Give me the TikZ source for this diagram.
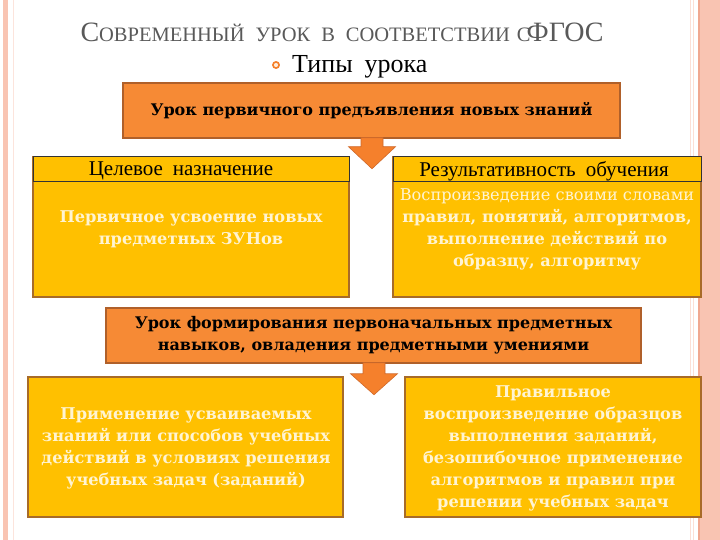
\documentclass[tikz,border=0pt]{standalone}
\usepackage{fontspec}
\setmainfont{Liberation Serif}
\newfontfamily\boxfont{DejaVu Serif}
\usetikzlibrary{calc}
\definecolor{orangebox}{HTML}{F68A35}
\definecolor{orangeedge}{HTML}{B0602A}
\definecolor{yellowbox}{HTML}{FFC000}
\definecolor{yellowedge}{HTML}{A86B28}
\definecolor{cream}{HTML}{FFF4D2}
\definecolor{pinkframe}{HTML}{F9C4B2}
\definecolor{pinkline}{HTML}{F0A890}
\definecolor{titlegrey}{HTML}{595959}
\definecolor{arrowfill}{HTML}{F5802C}
\definecolor{arrowedge}{HTML}{D0692A}
\tikzset{
  obox/.style={draw=orangeedge, fill=orangebox, line width=1.5pt, inner sep=0pt},
  ybox/.style={draw=yellowedge, fill=yellowbox, line width=1.5pt, inner sep=0pt},
  hbox/.style={draw=black!80, fill=yellowbox, line width=1pt, inner sep=0pt},
  otext/.style={font=\boxfont\bfseries\fontsize{16}{22}\selectfont, text=black, align=center, inner sep=0pt},
  htext/.style={font=\fontsize{21}{21}\selectfont, text=black, inner sep=0pt},
  btext/.style={font=\boxfont\bfseries\fontsize{16.2}{22}\selectfont, text=cream, align=center, inner sep=0pt},
  blockarrow/.style={fill=arrowfill, draw=arrowedge, line width=0.6pt, line join=miter}
}
\begin{document}
\begin{tikzpicture}[x=1pt,y=-1pt]
\useasboundingbox (0,0) rectangle (720,540);
\fill[white] (0,0) rectangle (720,540);
% frame
\fill[pinkframe] (3,0) rectangle (8,540);
\draw[pinkframe!45, line width=1pt] (13.5,0) -- (13.5,540);
\draw[pinkframe!55, line width=1pt] (690,0) -- (690,540);
\draw[pinkframe!55, line width=1pt] (693.5,0) -- (693.5,540);
\fill[pinkframe] (700,0) rectangle (720,540);
\draw[pinkline, line width=1.5pt] (699,0) -- (699,540);

% title
\node[inner sep=0pt, text=titlegrey, anchor=base] (title) at (342,42)
  {\fontsize{28}{28}\selectfont С\fontsize{20.5}{21}\selectfont ОВРЕМЕННЫЙ\hspace{11pt}УРОК\hspace{11pt}В\hspace{11pt}СООТВЕТСТВИИ\hspace{7pt}С\hspace{-4pt}\fontsize{28}{28}\selectfont ФГОС};
\node[circle, draw=arrowfill, line width=1.6pt, fill=orange!15, inner sep=2.2pt] (bullet) at (276,65) {};
\node[inner sep=0pt, anchor=base west, font=\fontsize{26}{27}\selectfont] (types) at (292,73) {Типы\hspace{12pt}урока};

% boxes
\node[obox, minimum width=497pt, minimum height=55pt] (t1) at (371.5,110.5) {};
\node[otext] (t1t) at (t1.center) {Урок первичного предъявления новых знаний};

\node[ybox, minimum width=316pt, minimum height=140pt] (ul) at (191,227) {};
\node[hbox, minimum width=316pt, minimum height=25pt] (ulh) at (191,169.5) {};
\node[htext] (ulht) at (181,171) {Целевое\hspace{10pt}назначение};
\node[btext] (ulb) at (191,229) {Первичное усвоение новых\\предметных ЗУНов};

\node[ybox, minimum width=308pt, minimum height=140pt] (ur) at (547,227) {};
\node[hbox, minimum width=308pt, minimum height=25pt] (urh) at (547,169.5) {};
\node[htext] (urht) at (544,171) {Результативность\hspace{10pt}обучения};
\node[btext] (urb) at (547,229) {{\mdseries Воспроизведение своими словами}\\правил, понятий, алгоритмов,\\выполнение действий по\\образцу, алгоритму};

\node[obox, minimum width=535pt, minimum height=55pt] (m1) at (373.5,335.5) {};
\node[otext] (m1t) at (m1.center) {Урок формирования первоначальных предметных\\навыков, овладения предметными умениями};

\node[ybox, minimum width=315pt, minimum height=140pt] (ll) at (185.5,447) {};
\node[btext] (llb) at (186,448.5) {Применение усваиваемых\\знаний или способов учебных\\действий в условиях решения\\учебных задач (заданий)};

\node[ybox, minimum width=296pt, minimum height=140pt] (lr) at (553,447) {};
\node[btext] (lrb) at (553,448.5) {Правильное\\воспроизведение образцов\\выполнения заданий,\\безошибочное применение\\алгоритмов и правил при\\решении учебных задач};

% block arrows
\draw[blockarrow] (t1.south) ++(-10.5,-1) -- ++(0,9) -- ++(-12.5,0) -- ++(23.5,22) -- ++(23.5,-22) -- ++(-12.5,0) -- ++(0,-9) -- cycle;
\draw[blockarrow] (m1.south) ++(-10.5,-1) -- ++(0,11) -- ++(-12.5,0) -- ++(23.5,21) -- ++(23.5,-21) -- ++(-12.5,0) -- ++(0,-11) -- cycle;
\end{tikzpicture}
\end{document}
